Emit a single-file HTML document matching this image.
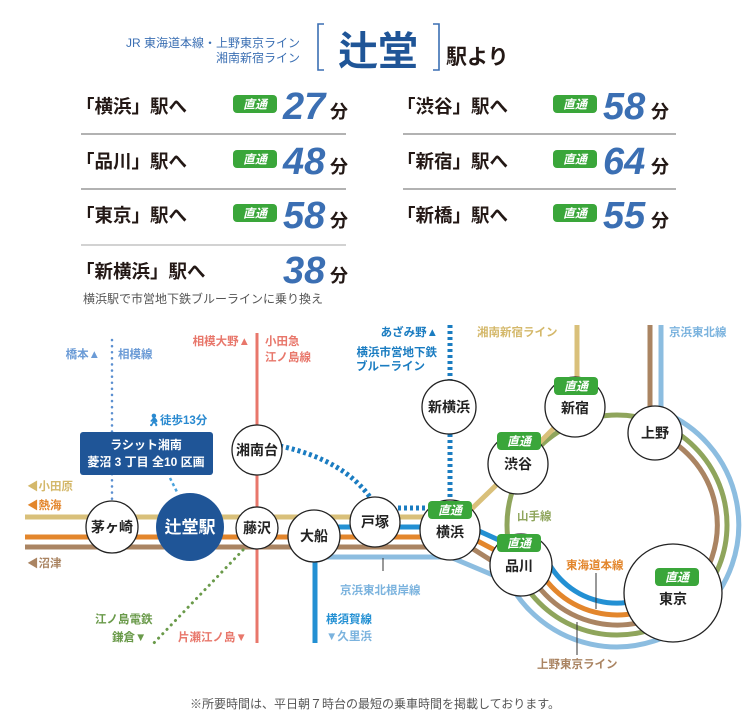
<!DOCTYPE html>
<html><head><meta charset="utf-8"><style>
html,body{margin:0;padding:0;background:#fff;}
svg{display:block;font-family:"Liberation Sans","Noto Sans CJK JP",sans-serif;}
.st{font-size:14px;font-weight:bold;fill:#222;text-anchor:middle;}
.row{font-size:18.5px;font-weight:bold;fill:#231815;}
.num{font-size:38px;font-weight:bold;font-style:italic;fill:#3b6fb3;}
.fun{font-size:18px;font-weight:bold;fill:#231815;}
.bt{font-size:12px;font-weight:bold;font-style:italic;fill:#fff;text-anchor:middle;}
.lb{font-size:11.5px;font-weight:bold;}
</style></head><body>
<svg width="750" height="725" viewBox="0 0 750 725">
<defs>
<g id="badge"><rect x="-22" y="-9" width="44" height="18" rx="4" fill="#3aa63a"/><text class="bt" x="0" y="4.5">直通</text></g>
</defs>
<!-- header -->
<text x="300" y="47" font-size="12" fill="#3b6fb3" text-anchor="end">JR 東海道本線・上野東京ライン</text>
<text x="300" y="62" font-size="12" fill="#3b6fb3" text-anchor="end">湘南新宿ライン</text>
<path d="M324,24 H318 V70 H324 M433,24 H439 V70 H433" fill="none" stroke="#3b6fb3" stroke-width="1.6"/>
<text x="378" y="65" font-size="40" font-weight="bold" fill="#1f5597" text-anchor="middle">辻堂</text>
<text x="446" y="64" font-size="21" font-weight="bold" fill="#231815">駅より</text>
<!-- rows left -->
<g>
<text class="row" x="76" y="113">「横浜」駅へ</text><use href="#badge" x="255" y="104"/><text class="num" x="283" y="119">27</text><text class="fun" x="330" y="118">分</text>
<line x1="81" y1="134" x2="346" y2="134" stroke="#333" stroke-width="0.8"/>
<text class="row" x="76" y="168">「品川」駅へ</text><use href="#badge" x="255" y="159"/><text class="num" x="283" y="174">48</text><text class="fun" x="330" y="173">分</text>
<line x1="81" y1="189" x2="346" y2="189" stroke="#333" stroke-width="0.8"/>
<text class="row" x="76" y="222">「東京」駅へ</text><use href="#badge" x="255" y="213"/><text class="num" x="283" y="228">58</text><text class="fun" x="330" y="227">分</text>
<line x1="81" y1="245" x2="346" y2="245" stroke="#888" stroke-width="0.8"/>
<text class="row" x="76" y="278">「新横浜」駅へ</text><text class="num" x="283" y="283">38</text><text class="fun" x="330" y="282">分</text>
<text x="83" y="303" font-size="12" fill="#555">横浜駅で市営地下鉄ブルーラインに乗り換え</text>
</g>
<g>
<text class="row" x="397" y="113">「渋谷」駅へ</text><use href="#badge" x="575" y="104"/><text class="num" x="603" y="119">58</text><text class="fun" x="651" y="118">分</text>
<line x1="403" y1="134" x2="676" y2="134" stroke="#333" stroke-width="0.8"/>
<text class="row" x="397" y="168">「新宿」駅へ</text><use href="#badge" x="575" y="159"/><text class="num" x="603" y="174">64</text><text class="fun" x="651" y="173">分</text>
<line x1="403" y1="189" x2="676" y2="189" stroke="#333" stroke-width="0.8"/>
<text class="row" x="397" y="222">「新橋」駅へ</text><use href="#badge" x="575" y="213"/><text class="num" x="603" y="228">55</text><text class="fun" x="651" y="227">分</text>
</g>

<!-- map lines -->
<g fill="none" stroke-width="5">
<circle cx="617" cy="525" r="110" stroke="#8fa55c"/>
<line x1="650" y1="325" x2="650" y2="430" stroke="#aa8462"/>
<line x1="661" y1="325" x2="661" y2="420" stroke="#8cbde0"/>
<line x1="577" y1="325" x2="577" y2="400" stroke="#d9c07a"/>
<polyline points="25,517 455,517" stroke="#d9c07a"/>
<polyline points="455,525 518,464 575,407" stroke="#d9c07a"/>
<polyline points="330,527 470,527 512,546" stroke="#2390d3"/>
<line x1="315" y1="550" x2="315" y2="643" stroke="#2390d3"/>
<polyline points="25,537 470,537 506,556" stroke="#e3862c"/>
<polyline points="25,547 470,547 500,566" stroke="#aa8462"/>
<polyline points="318,557 450,557 500,578" stroke="#8cbde0"/>
<path d="M544,553 A78,78 0 0 0 668,584" stroke="#2390d3"/>
<path d="M533,557 A90,90 0 0 0 676,593" stroke="#e3862c"/>
<path d="M524,561 A100,100 0 1 0 654,432" stroke="#aa8462"/>
<path d="M503,569 A122,122 0 1 0 663,412" stroke="#8cbde0"/>
</g>
<line x1="257" y1="333" x2="257" y2="643" stroke="#e8776b" stroke-width="3"/>
<line x1="112" y1="340" x2="112" y2="502" stroke="#5b8fd0" stroke-width="2.5" stroke-dasharray="0.1 6" stroke-linecap="round"/>
<line x1="243" y1="550" x2="152" y2="645" stroke="#6a9a4a" stroke-width="3" stroke-dasharray="0.1 6" stroke-linecap="round"/>
<line x1="170" y1="478" x2="178" y2="494" stroke="#4aa3dd" stroke-width="2.5" stroke-dasharray="3 3"/>
<g fill="none" stroke="#1a7cc1" stroke-width="5" stroke-dasharray="3 3">
<line x1="450" y1="325" x2="450" y2="382"/>
<line x1="450" y1="434" x2="450" y2="505"/>
<line x1="398" y1="508" x2="425" y2="508"/>
<path d="M280,446 Q345,460 372,500"/>
</g>
<line x1="383" y1="558" x2="383" y2="571" stroke="#333" stroke-width="1"/>
<line x1="596" y1="573" x2="596" y2="609" stroke="#333" stroke-width="1"/>
<line x1="577" y1="622" x2="577" y2="655" stroke="#333" stroke-width="1"/>

<g stroke="#222" stroke-width="1.3" fill="#fff">
<circle cx="112" cy="527" r="26"/>
<circle cx="257" cy="450" r="25"/>
<circle cx="257" cy="528" r="21"/>
<circle cx="314" cy="536" r="26"/>
<circle cx="375" cy="522" r="25"/>
<circle cx="450" cy="530" r="30"/>
<circle cx="449" cy="407" r="27"/>
<circle cx="518" cy="464" r="30"/>
<circle cx="575" cy="407" r="30"/>
<circle cx="655" cy="433" r="27"/>
<circle cx="521" cy="565" r="31"/>
<circle cx="673" cy="593" r="49"/>
</g>
<circle cx="190" cy="527" r="34" fill="#1f5597"/>
<text x="190" y="533" font-size="17" font-weight="bold" fill="#fff" text-anchor="middle">辻堂駅</text>
<text class="st" x="112" y="532">茅ヶ崎</text>
<text class="st" x="257" y="455">湘南台</text>
<text class="st" x="257" y="533">藤沢</text>
<text class="st" x="314" y="541">大船</text>
<text class="st" x="375" y="527">戸塚</text>
<text class="st" x="450" y="537">横浜</text>
<text class="st" x="449" y="412">新横浜</text>
<text class="st" x="518" y="469">渋谷</text>
<text class="st" x="575" y="413">新宿</text>
<text class="st" x="655" y="438">上野</text>
<text class="st" x="519" y="571">品川</text>
<text class="st" x="673" y="604">東京</text>
<use href="#badge" x="450" y="510"/>
<use href="#badge" x="519" y="441"/>
<use href="#badge" x="576" y="386"/>
<use href="#badge" x="519" y="543"/>
<use href="#badge" x="677" y="577"/>

<rect x="80" y="432" width="133" height="43" rx="3" fill="#1f5597"/>
<text x="146" y="449" font-size="12" font-weight="bold" fill="#fff" text-anchor="middle">ラシット湘南</text>
<text x="146" y="466" font-size="12" font-weight="bold" fill="#fff" text-anchor="middle">菱沼 3 丁目 全10 区画</text>
<text x="146" y="424" font-size="12" font-weight="bold" fill="#2a8ad0">🚶︎</text>
<text x="160" y="424" class="lb" fill="#2a8ad0">徒歩13分</text>

<text class="lb" x="100" y="358" fill="#6b9bd6" text-anchor="end">橋本▲</text>
<text class="lb" x="118" y="358" fill="#6b9bd6">相模線</text>
<text class="lb" x="250" y="345" fill="#e8776b" text-anchor="end">相模大野▲</text>
<text class="lb" x="265" y="345" fill="#e8776b">小田急</text>
<text class="lb" x="265" y="361" fill="#e8776b">江ノ島線</text>
<text class="lb" x="438" y="336" fill="#1a7cc1" text-anchor="end">あざみ野▲</text>
<text class="lb" x="437" y="356" fill="#1a7cc1" text-anchor="end">横浜市営地下鉄</text>
<text class="lb" x="425" y="370" fill="#1a7cc1" text-anchor="end">ブルーライン</text>
<text class="lb" x="477" y="336" fill="#d4b86a">湘南新宿ライン</text>
<text class="lb" x="669" y="336" fill="#7bb3de">京浜東北線</text>
<text class="lb" x="27" y="490" fill="#d4b86a">◀小田原</text>
<text class="lb" x="27" y="509" fill="#e3862c">◀熱海</text>
<text class="lb" x="27" y="567" fill="#aa8462">◀沼津</text>
<text class="lb" x="517" y="520" fill="#8fa55c">山手線</text>
<text class="lb" x="566" y="569" fill="#e3862c">東海道本線</text>
<text class="lb" x="537" y="668" fill="#aa8462">上野東京ライン</text>
<text class="lb" x="340" y="594" fill="#7bb3de">京浜東北根岸線</text>
<text class="lb" x="326" y="623" fill="#2390d3">横須賀線</text>
<text class="lb" x="326" y="640" fill="#7bb3de">▼久里浜</text>
<text class="lb" x="95" y="623" fill="#6a9a4a">江ノ島電鉄</text>
<text class="lb" x="112" y="641" fill="#6a9a4a">鎌倉▼</text>
<text class="lb" x="178" y="641" fill="#e8776b">片瀬江ノ島▼</text>
<text x="375" y="708" font-size="12" fill="#555" text-anchor="middle">※所要時間は、平日朝７時台の最短の乗車時間を掲載しております。</text>
</svg>
</body></html>
